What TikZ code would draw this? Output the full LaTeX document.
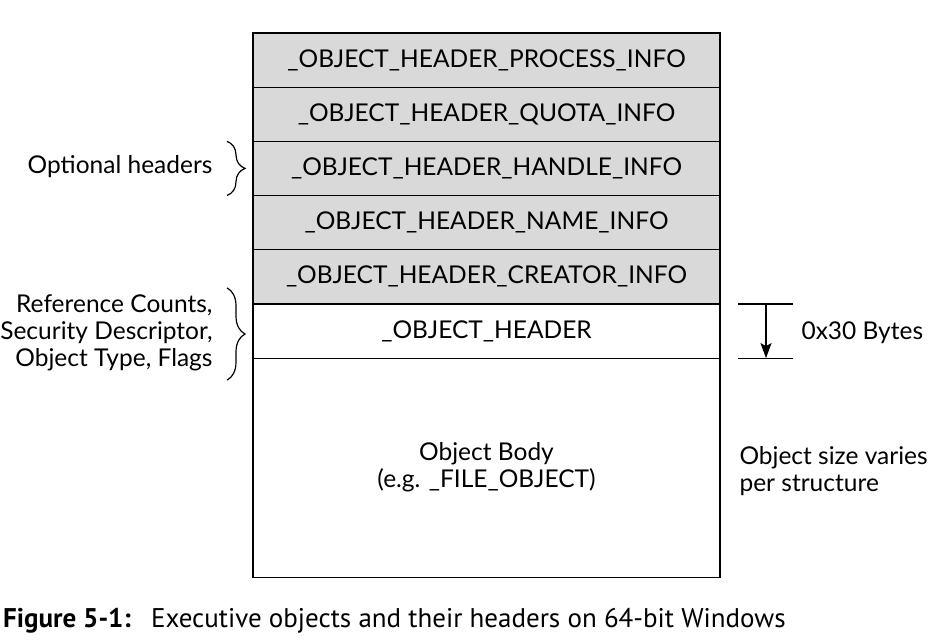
\documentclass[tikz,border=0pt]{standalone}
\usepackage{fontspec}
\setmainfont{Lato}
\newfontfamily\capfont{PT Sans}
\usetikzlibrary{positioning,decorations.pathreplacing,arrows.meta}

\begin{document}
\begin{tikzpicture}[x=1pt,y=-1pt,
  hdr/.style={draw,line width=1.2pt,fill=gray!30,minimum width=467pt,minimum height=54.2pt,inner sep=0pt,outer sep=0pt,font=\fontsize{24.5}{27}\selectfont},
  body/.style={hdr,fill=white,minimum height=219pt,align=center},
  brc/.style={decorate,decoration={brace,amplitude=18pt},line width=1.2pt},
  lbl/.style={font=\fontsize{24.5}{27}\selectfont}]

\useasboundingbox (0,0) rectangle (936,640);

\node[hdr] (proc) at (486.5,60) {\_OBJECT\_HEADER\_PROCESS\_INFO};
\node[hdr,below=0pt of proc] (quota) {\_OBJECT\_HEADER\_QUOTA\_INFO};
\node[hdr,below=0pt of quota] (handle) {\_OBJECT\_HEADER\_HANDLE\_INFO};
\node[hdr,below=0pt of handle] (name) {\_OBJECT\_HEADER\_NAME\_INFO};
\node[hdr,below=0pt of name] (creator) {\_OBJECT\_HEADER\_CREATOR\_INFO};
\node[hdr,fill=white,below=0pt of creator] (header) {\_OBJECT\_HEADER};
\node[body,below=0pt of header] (objbody) {\rule{0pt}{8pt}Object Body\\(e.g. \_FILE\_OBJECT)};

\draw[brc] ([xshift=-26pt]handle.north west) -- ([xshift=-26pt]handle.south west);
\draw[brc] ([xshift=-26pt,yshift=16pt]header.north west) -- ([xshift=-26pt,yshift=-22pt]header.south west);
\node[lbl,anchor=east] (opt) at (216,167) {Optional headers};
\node[lbl,anchor=east,align=right] (refs) at (216,333) {Reference Counts,\\Security Descriptor,\\Object Type, Flags};

\coordinate (dtop) at ([xshift=46pt]header.north east);
\coordinate (dbot) at ([xshift=46pt]header.south east);
\draw[line width=1.2pt] ([xshift=-28pt]dtop) -- ([xshift=27pt]dtop);
\draw[line width=1.2pt] ([xshift=-28pt]dbot) -- ([xshift=27pt]dbot);
\draw[line width=1.2pt,-{Stealth[length=15pt,width=11pt,inset=3pt]}] (dtop) -- (dbot);
\node[lbl,anchor=west] (bytes) at (798,333) {0x30 Bytes};
\node[lbl,anchor=west,align=left] (varies) at (736,471) {Object size varies\\per structure};

\node[anchor=west,inner sep=0pt,font=\capfont\fontsize{27}{30}\selectfont] (caption) at (3,621) {\textbf{Figure 5-1:}\hspace{0.75em}Executive objects and their headers on 64-bit Windows};

\end{tikzpicture}
\end{document}
